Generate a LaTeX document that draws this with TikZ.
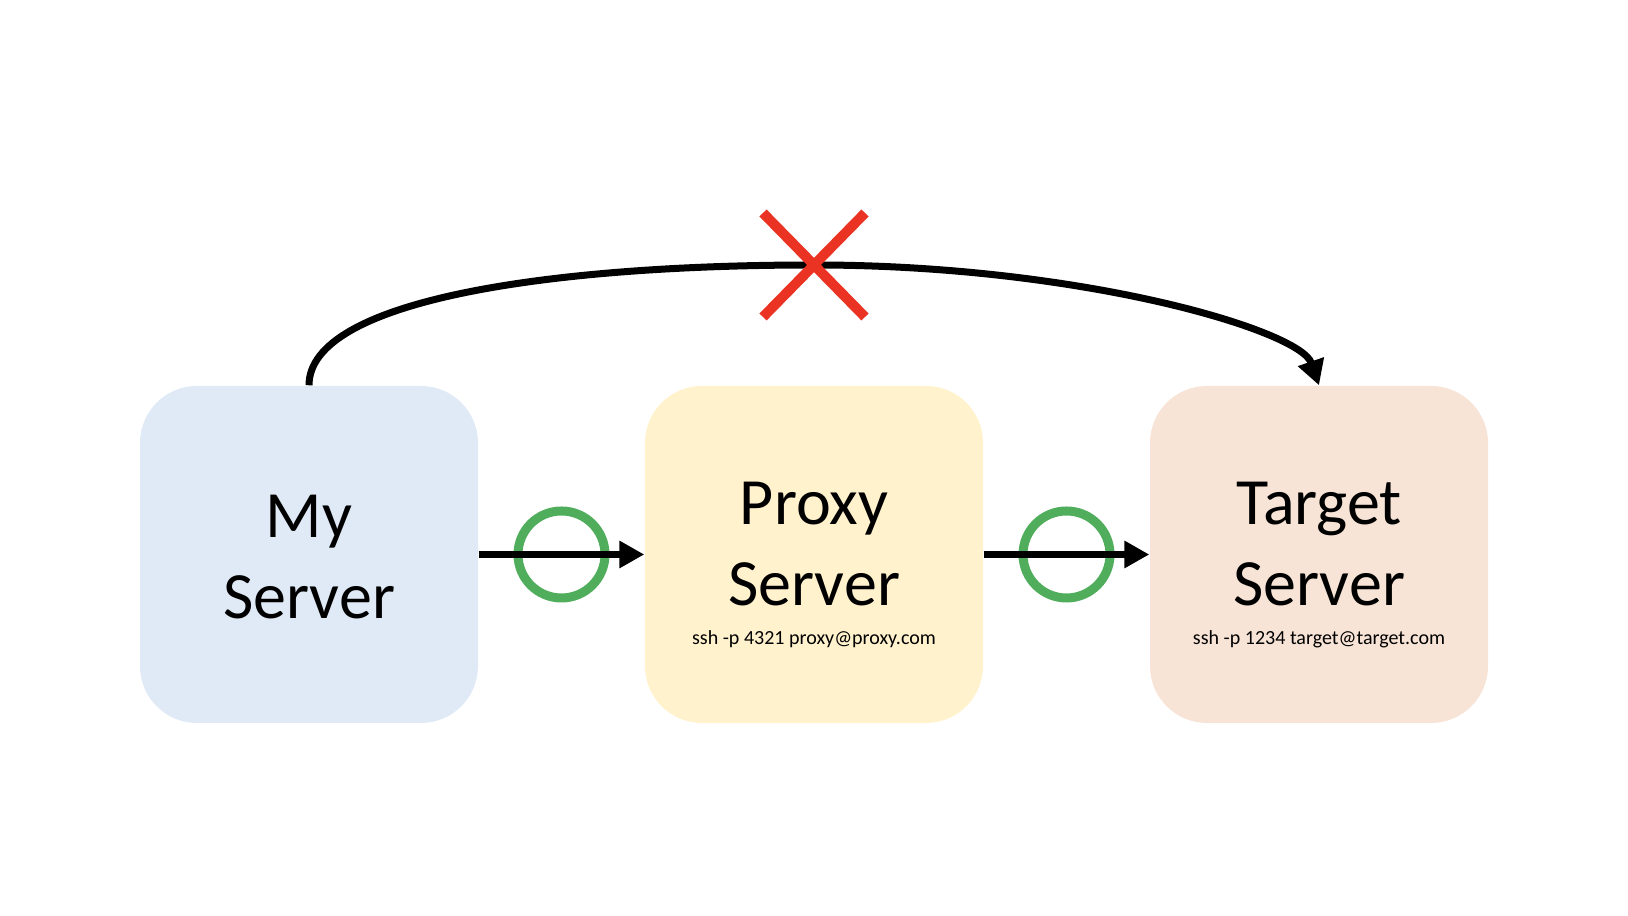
\documentclass[tikz,border=0pt]{standalone}
\usepackage{fontspec}
\setmainfont{Carlito}
\usetikzlibrary{arrows.meta}
\definecolor{myblue}{HTML}{DFEAF6}
\definecolor{proxyyellow}{HTML}{FFF2CC}
\definecolor{targetorange}{HTML}{F8E4D6}
\definecolor{okgreen}{HTML}{4FAD5B}
\definecolor{nored}{HTML}{EA3323}
\begin{document}
\begin{tikzpicture}[
	server/.style={rounded corners=0.57cm, minimum width=3.38cm, minimum height=3.37cm, inner sep=0pt},
	srvname/.style={align=center, anchor=base, inner sep=0pt, font=\fontsize{18.8}{23.3}\selectfont},
	cmd/.style={anchor=base, inner sep=0pt, font=\fontsize{5.7}{7}\selectfont},
	link/.style={line width=0.075cm, -{Triangle[length=0.25cm,width=0.26cm]}},
	okmark/.style={circle, draw=okgreen, line width=0.09cm, minimum size=0.87cm, inner sep=0pt},
	nomark/.style={nored, line width=0.1cm}]
	\fill[white] (0,0) rectangle (16.28,9.16);
	\useasboundingbox (0,0) rectangle (16.28,9.16);
	\node[server, fill=myblue] (my) at (3.09,3.615) {};
	\node[server, fill=proxyyellow] (proxy) at (8.14,3.615) {};
	\node[server, fill=targetorange] (target) at (13.19,3.615) {};
	\node[srvname] (mytext) at ([yshift=-0.645cm]my.center) {My\\Server};
	\node[srvname] (proxytext) at ([yshift=-0.515cm]proxy.center) {Proxy\\Server};
	\node[cmd] (proxycmd) at ([yshift=-0.9cm]proxy.center) {ssh -p 4321 proxy@proxy.com};
	\node[srvname] (targettext) at ([yshift=-0.515cm]target.center) {Target\\Server};
	\node[cmd] (targetcmd) at ([yshift=-0.9cm]target.center) {ssh -p 1234 target@target.com};
	\path (my) -- node[okmark] (okone) {} (proxy);
	\path (proxy) -- node[okmark] (oktwo) {} (target);
	\draw[link] (my) -- (proxy);
	\draw[link] (proxy) -- (target);
	\coordinate (peak) at (8.14,6.51);
	\draw[line width=0.07cm, -{Triangle[length=0.25cm,width=0.26cm]}] (my.north) .. controls (3.09,6.16) and (5.50,6.51) .. (peak) .. controls (10.80,6.51) and (13.00,5.86) .. (target.north);
	\draw[nomark] ([shift={(-0.51,-0.52)}]peak) -- ([shift={(0.51,0.52)}]peak);
	\draw[nomark] ([shift={(-0.51,0.52)}]peak) -- ([shift={(0.51,-0.52)}]peak);
\end{tikzpicture}
\end{document}
